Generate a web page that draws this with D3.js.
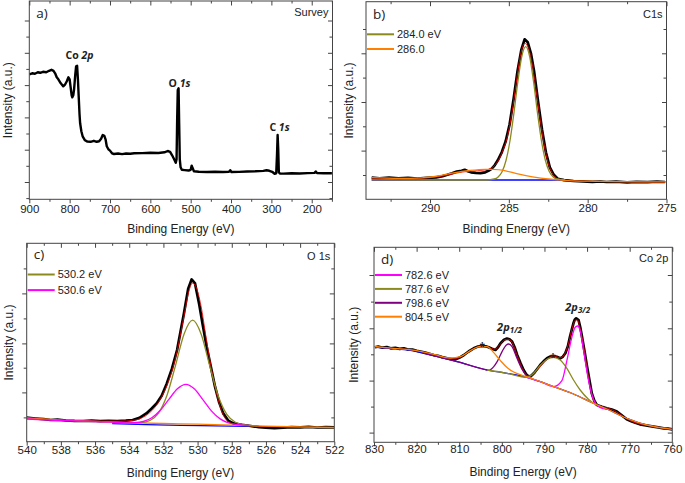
<!DOCTYPE html>
<html>
<head>
<meta charset="utf-8">
<script src="https://cdn.jsdelivr.net/npm/d3@7"></script>
<style>
  body { margin: 0; background: #fff; }
  text { font-family: "Liberation Sans", Arial, sans-serif; fill: #222; }
  .note { font-family: "Open Sans", "Liberation Sans", sans-serif; }
</style>
</head>
<body>
<svg id="chart" width="685" height="483"></svg>
<script>
// ---- panel a) survey ----
const surveyData = [[900,125],[893,126],[886,125.5],[879,127],[873,126.5],[866,127.5],[858,127],[851,128.5],[845,129.5],[840,128.5],[836,126],[832,122],[828,120],[822,116],[816,113],[811,115],[807,118],[803,122],[800,120],[797.5,112],[795,104],[793.4,102],[791,104],[789,110],[786,125],[784,133],[781.5,133.5],[779.5,120],[777.7,104],[775.5,85],[774,76],[771,68],[767.8,63],[762,59],[756,57.7],[748,57.5],[740,58.5],[733,57.5],[727,58],[722,60.5],[718,64.3],[714,63.5],[711,60],[708,53],[704,50],[700,48.7],[695,46],[690,45.3],[680,45.8],[670,45.2],[660,45.8],[650,45.5],[640,46],[620,46.2],[600,46.5],[580,46.3],[565,47],[557,48.3],[551,47.5],[546,44],[541,40],[537,36.5],[535,40],[533.5,80],[532,109.3],[530,111],[528.5,75],[527,40],[525,32],[522,29.5],[515,29.2],[505,28.8],[500,29.5],[497.5,33.7],[495,31],[492,28],[480,27.5],[460,27.3],[440,27.6],[420,27.3],[405,27.5],[402,29],[399,27.3],[380,27.4],[360,27.8],[340,28],[320,28.4],[312,29],[305,28.5],[298,27.5],[292,25.5],[288,26],[286,45],[284.5,64.3],[283,50],[281.5,27],[279,25.8],[270,25.7],[250,26],[230,25.8],[210,26.2],[193,26.4],[190,27.8],[187,26.3],[170,26],[150,26]];
const surveyLabels = [['Co ', '2p', 775.6, 140.3], ['O ', '1s', 527.7, 112.3], ['C ', '1s', 279.8, 68.3]];
const surveyTicks = [900, 800, 700, 600, 500, 400, 300, 200];

// ---- panel b) C1s ----
const c1sData = [[293.7,21.7],[293.2,21],[292.6,21.8],[292,21],[291.4,21.4],[290.8,20.8],[290.2,21.5],[289.6,22],[289.2,23.2],[288.9,24.5],[288.6,26],[288.3,27.7],[288,28.5],[287.8,29.5],[287.6,28],[287.4,27],[287.1,26.5],[286.8,26.2],[286.5,27],[286.3,28.5],[286.1,30.5],[285.9,34],[285.7,39],[285.45,47],[285.2,58],[284.95,75],[284.7,100],[284.45,128],[284.2,150],[284.0,160],[283.8,157],[283.6,146],[283.4,128],[283.15,98],[282.9,70],[282.65,47],[282.4,32],[282.15,24.5],[281.9,20.5],[281.5,19.2],[280.9,18.3],[280.3,18],[279.7,17.5],[279.2,17.8],[278.8,17.3],[278.2,17.6],[277.5,17],[276.9,17.5],[276.2,17.2],[275.6,17.6],[275.1,17.3]];
const c1sEnvelope = [[293.7,21.2],[291,21.1],[290,21.6],[289,23.8],[288,27.2],[287,28.6],[286.4,29.6],[286,32.5],[285.7,38],[285.4,48],[285.1,62],[284.8,87],[284.5,120],[284.25,145],[284.0,156],[283.8,153],[283.55,138],[283.3,112],[283.05,84],[282.8,58],[282.5,36],[282.2,25],[281.9,20.5],[281.5,19],[280.5,18.2],[279,17.8],[277,17.4],[275,17.3]];
const c1sBackground = [[293.7,19.3],[281.6,19.3]];
const c1sPeak284 = [[293.7,19.4],[290,19.3],[287,19.3],[286.43,19.3],[285.93,20.3],[285.68,22.4],[285.43,27.6],[285.18,38.8],[284.93,58.3],[284.68,86],[284.43,117.3],[284.18,142.8],[283.93,152.7],[283.68,142.8],[283.43,117.3],[283.18,86],[282.93,58.3],[282.68,38.8],[282.43,27.6],[282.18,22.4],[281.93,20.3],[281.43,19.3]];
const c1sPeak286 = [[293.7,21.7],[292,21],[290.5,21.5],[289.5,23.3],[288.5,26.5],[287.5,28.8],[286.5,30],[286,30],[285.2,28.5],[284.5,25.7],[283.5,22.5],[282.5,20.3],[281.8,19.5],[281,18.5],[279.5,18],[278,17.7],[276.5,17.5],[275,17.4]];
const c1sTicks = [290, 285, 280, 275];

// ---- panel c) O 1s ----
const o1sData = [[540,24],[539.5,23.2],[539,22.5],[538.6,21.7],[538.2,22],[537.7,21.2],[537.2,20.8],[536.7,20.7],[536.2,21],[535.7,20.5],[535.2,20.9],[534.7,20.7],[534.2,21],[533.8,21.7],[533.4,23.8],[533,28.3],[532.7,33],[532.4,38.3],[532.1,46],[531.8,58.3],[531.5,73],[531.2,91.7],[531,110],[530.8,128.3],[530.55,153],[530.35,162.3],[530.15,158.3],[529.9,137],[529.7,117],[529.47,95],[529.2,73],[528.98,55],[528.75,40],[528.5,28.3],[528.2,21],[527.9,18.3],[527.4,16.8],[526.9,15.7],[526.4,14.5],[526,14],[525.5,13.5],[525,14],[524.5,14.5],[524,14.3],[523.5,14.8],[523,14.2],[522.5,14.6],[522,14.3]];
const o1sEnvelope = [[540,23.8],[538,21.6],[536,20.6],[534.5,20.6],[533.8,21.3],[533.3,23.5],[532.8,29],[532.3,39],[531.8,56],[531.3,83],[530.8,125],[530.5,151],[530.3,158.5],[530.1,155],[529.8,136],[529.5,104],[529.2,74],[528.9,49],[528.6,31],[528.3,21.5],[527.9,17.8],[527,16],[525,14.6],[522,14.2]];
const o1sBackground = [[540,23.7],[538,21.5],[536,20.3],[534,19],[532,18.2],[530,17.5],[528,16.6],[526,15.5],[524,14.8],[522,14.2]];
const o1sBlue = [[535,18.2],[533,17.1],[531,16.3],[529,15.9],[527,15.4]];
const o1sPeak530_2 = [[535,18.8],[534,18.7],[533.29,19.1],[532.79,21.2],[532.29,28.5],[531.79,46.5],[531.29,76.4],[530.79,107.8],[530.29,121.5],[529.79,107.5],[529.29,75.9],[528.79,45.7],[528.29,27.3],[527.79,19.5],[527.29,17.1],[526.5,15.9]];
const o1sPeak530_6 = [[540,22.7],[538,21.2],[536,20.2],[535,19.5],[534.18,18.8],[533.68,19],[533.18,20.2],[532.68,23.9],[532.18,31.5],[531.68,42.3],[531.18,52.9],[530.68,57.3],[530.18,52.6],[529.68,41.8],[529.18,30.6],[528.68,22.8],[528.18,18.7],[527.68,17.1],[527,16.3]];
const o1sTicks = [540, 538, 536, 534, 532, 530, 528, 526, 524, 522];

// ---- panel d) Co 2p ----
const co2pData = [[829.8,95],[829,95.8],[828,94.6],[827,95.3],[826.1,94],[825,94.5],[824,93.4],[823,94],[822.2,93],[821,92.8],[820,91.5],[819.1,90.7],[818,89.8],[817,88.6],[816,87.3],[815,86.5],[814,85.2],[812.8,84],[811.8,83.3],[810.9,83],[810,84.5],[808.9,87.3],[807.8,90.8],[806.6,94],[805.6,95.8],[804.6,96.3],[803.8,96],[803.1,95],[802.3,93.5],[801.5,92.3],[800.9,95],[800.3,99],[799.5,102.5],[798.8,103.7],[798.2,103],[797.6,100.7],[797,95],[796.4,87.3],[795.6,79],[794.9,72.3],[794.3,68],[793.7,65.7],[793.1,66.5],[792.5,69],[791.8,72.8],[791,77.3],[790.2,81],[789.4,84],[788.6,85.8],[787.9,86.3],[787.1,85.5],[786.3,84],[785.7,85.5],[785.1,89],[784.5,96],[784,105.7],[783.6,112.5],[783.2,119],[782.9,122.5],[782.55,124],[782.0,122.3],[781.6,115],[781.2,105.7],[780.6,91],[780,75.7],[779.4,61],[778.9,49],[778.3,41.5],[777.7,37.3],[776.5,35.5],[775.4,34],[774.2,32.8],[773,30.7],[772,27.5],[770.7,23],[769.5,20.8],[768.5,19.3],[767.6,18],[766.5,17.2],[765.5,16.5],[764.4,15.7],[763.3,15],[762,14],[761,13.6],[760,13]];
const co2pEnvelope = [[829.8,95],[826,94],[822,92.8],[818,89.4],[814,85.3],[811.5,83.4],[810,84.5],[808.5,88.5],[806.5,94],[804.6,96.2],[803,95],[801.7,93],[800.5,97.5],[799.3,102.5],[798.5,103],[797.6,100],[796.5,88],[795.2,74],[794.0,66.5],[793,66.5],[791.5,73],[790,80.5],[788.5,85.5],[787.5,86],[786.3,84.5],[785.3,88],[784.4,98],[783.5,114],[782.8,122],[782.3,122.5],[781.7,115],[781,101],[780.2,80],[779.4,58],[778.6,43],[777.6,37],[776,35],[774,32.5],[772,27.5],[770,21.8],[768,18.6],[765,16.3],[762,14.2],[760,13.2]];
const co2pBackground = [[829.77,95],[822.2,92.3],[818.3,89],[814.4,85],[810.5,80.7],[803.47,72.3],[798.78,69],[794.1,65],[790.98,60.7],[787.86,55.7],[783.18,48.3],[778.5,39],[775.37,33.3],[770.69,24],[766,17.3],[760,13]];
const co2pPeak782_6 = [[794.1,65],[790.98,60.7],[787.86,55.7],[785.91,61.7],[784.74,81.7],[783.57,105],[782.79,115],[782.24,116.3],[781.62,111.7],[780.84,92.3],[779.67,62.3],[778.5,43],[777.32,35.7],[776.15,33.7],[775.37,33.3]];
const co2pPeak787_6 = [[803.47,72.3],[798.78,69],[794.1,65],[792.54,69],[790.98,77],[789.42,83],[787.86,85],[786.3,82.3],[784.74,74],[783.18,62.3],[781.62,52.3],[779.67,43],[778.5,39]];
const co2pPeak798_6 = [[818.3,89],[814.4,85],[810.5,80.7],[803.47,72.3],[803.08,72],[801.9,75.7],[801.1,80.7],[799.95,90.7],[798.94,97.3],[798.4,98.3],[797.6,95.7],[796.44,84],[795.27,73],[794.1,66.3],[792.93,64]];
const co2pPeak804_5 = [[829.77,95.7],[826,94.2],[822.2,93],[818.5,90.5],[815.95,88],[812.05,84.3],[809.71,85.7],[807.37,91.7],[805.03,96],[803.47,95.7],[801.9,89.7],[800.34,81.7],[798.78,74.7],[797.22,70.3],[795.27,67],[793.71,65],[790.98,60.7],[787.86,55.7],[783.18,48.3],[778.5,39],[775.37,33.3],[770.69,24],[766,17.3],[760,13]];
const co2pLabels = [['2p', '1/2', 798.2, 111], ['2p', '3/2', 782.2, 131]];
const co2pStars = [[804.6, 99.3], [788.0, 88.7]];
const co2pTicks = [830, 820, 810, 800, 790, 780, 770, 760];

const olive = '#8a8a1e', magenta = '#ff00ff', purple = '#800080', orange = '#ff8000', blue = '#0000ff', red = '#ff0000';

const svg = d3.select('#chart');

function drawPanel(p) {
  const x = d3.scaleLinear().domain(p.xDomain).range([p.left, p.right]);
  const y = d3.scaleLinear().domain(p.yDomain).range([p.bottom, p.top]);
  const g = svg.append('g');

  const clipId = 'clip-' + p.name;
  g.append('clipPath').attr('id', clipId).append('rect')
    .attr('x', p.left).attr('y', p.top)
    .attr('width', p.right - p.left).attr('height', p.bottom - p.top);

  const plot = g.append('g').attr('clip-path', `url(#${clipId})`);
  const line = d3.line().x(d => x(d[0])).y(d => y(d[1]));

  p.series.forEach(s => {
    plot.append('path')
      .datum(s.data)
      .attr('fill', 'none')
      .attr('stroke', s.color)
      .attr('stroke-width', s.width)
      .attr('stroke-linejoin', 'round')
      .attr('d', line.curve(s.curve || d3.curveMonotoneX));
  });

  // axes: majors + minors on all four sides
  const axisStyle = sel => {
    sel.select('.domain').remove();
    sel.selectAll('line').attr('stroke', '#444');
    sel.selectAll('text').remove();
  };
  const fmt = d3.format('d');
  g.append('g').attr('transform', `translate(0,${p.bottom})`)
    .call(d3.axisBottom(x).tickValues(p.xMinor).tickSize(2.5)).call(axisStyle);
  g.append('g').attr('transform', `translate(0,${p.top})`)
    .call(d3.axisTop(x).tickValues(p.xMinor).tickSize(-2.5)).call(axisStyle);
  g.append('g').attr('transform', `translate(0,${p.top})`)
    .call(d3.axisTop(x).tickValues(p.xMajor).tickSize(-4.5)).call(axisStyle);
  const bottomMajor = g.append('g').attr('transform', `translate(0,${p.bottom})`)
    .call(d3.axisBottom(x).tickValues(p.xMajor).tickSize(4).tickFormat(fmt));
  bottomMajor.select('.domain').remove();
  bottomMajor.selectAll('line').attr('stroke', '#444');
  bottomMajor.selectAll('text')
    .attr('y', p.labelGap).attr('dy', null)
    .style('font-size', '11.5px').style('font-family', '"Liberation Sans", Arial, sans-serif').attr('fill', '#222');

  g.append('g').attr('transform', `translate(${p.left},0)`)
    .call(d3.axisLeft(y).tickValues(p.yMajor).tickSize(4.5)).call(axisStyle);
  g.append('g').attr('transform', `translate(${p.left},0)`)
    .call(d3.axisLeft(y).tickValues(p.yMinor).tickSize(3)).call(axisStyle);
  g.append('g').attr('transform', `translate(${p.right},0)`)
    .call(d3.axisRight(y).tickValues(p.yMajor).tickSize(-4.5)).call(axisStyle);
  g.append('g').attr('transform', `translate(${p.right},0)`)
    .call(d3.axisRight(y).tickValues(p.yMinor).tickSize(-3)).call(axisStyle);

  g.append('rect')
    .attr('x', p.left).attr('y', p.top)
    .attr('width', p.right - p.left).attr('height', p.bottom - p.top)
    .attr('fill', 'none').attr('stroke', '#444').attr('stroke-width', 1);

  // axis titles
  g.append('text')
    .attr('x', (p.left + p.right) / 2).attr('y', p.titleY)
    .attr('text-anchor', 'middle').style('font-size', '12px')
    .text('Binding Energy (eV)');
  g.append('text')
    .attr('transform', `translate(${p.yTitleX},${(p.top + p.bottom) / 2}) rotate(-90)`)
    .attr('text-anchor', 'middle').attr('dy', '0.35em').style('font-size', '12px')
    .text('Intensity (a.u.)');

  // panel letter and core level
  g.append('text').attr('class', 'note')
    .attr('x', p.left + 7).attr('y', p.top + p.letterDy)
    .style('font-size', '13.5px').text(p.letter);
  g.append('text')
    .attr('x', p.right - 4).attr('y', p.top + p.cornerDy)
    .attr('text-anchor', 'end').style('font-size', '11px').text(p.corner);

  // legend
  (p.legend || []).forEach((item, i) => {
    const ly = p.legendY + i * p.legendStep;
    g.append('line')
      .attr('x1', p.left + 1).attr('x2', p.left + 28).attr('y1', ly).attr('y2', ly)
      .attr('stroke', item[1]).attr('stroke-width', 2);
    g.append('text')
      .attr('x', p.left + 31).attr('y', ly).attr('dy', '0.35em')
      .style('font-size', '11px').text(item[0]);
  });

  return { g, x, y };
}

// panel a
const pa = drawPanel({
  name: 'a', left: 29.3, right: 332.5, top: 1, bottom: 199.3,
  xDomain: [900, 148.5], yDomain: [0, 198.3],
  xMajor: surveyTicks, xMinor: d3.range(850, 149, -100),
  yMajor: [17.3, 49.6, 81.9, 114.2, 146.5, 178.8], yMinor: [1.2, 33.5, 65.8, 98.1, 130.4, 162.7],
  labelGap: 14, titleY: 233, yTitleX: 8,
  letter: 'a)', letterDy: 17, corner: 'Survey', cornerDy: 15,
  series: [{ data: surveyData, color: '#000', width: 2.4, curve: d3.curveLinear }]
});
surveyLabels.forEach(l => {
  const t = pa.g.append('text').attr('class', 'note')
    .attr('x', pa.x(l[2])).attr('y', pa.y(l[3]))
    .attr('text-anchor', 'middle').style('font-size', '10.5px').style('font-weight', 'bold');
  t.append('tspan').text(l[0]);
  t.append('tspan').style('font-style', 'italic').text(l[1]);
});

// panel b
drawPanel({
  name: 'b', left: 366, right: 666.5, top: 1.7, bottom: 199.3,
  xDomain: [294.06, 275], yDomain: [0, 197.6],
  xMajor: c1sTicks, xMinor: [292.5, 287.5, 282.5, 277.5],
  yMajor: [48.7, 97.3, 146], yMinor: [24.3, 73, 121.7, 170.3],
  labelGap: 12.5, titleY: 233, yTitleX: 348.5,
  letter: 'b)', letterDy: 17, corner: 'C1s', cornerDy: 16,
  legend: [['284.0 eV', olive], ['286.0', orange]], legendY: 34.3, legendStep: 14.7,
  series: [
    { data: c1sData, color: '#000', width: 2.7, curve: d3.curveLinear },
    { data: c1sEnvelope, color: red, width: 0.8 },
    { data: c1sBackground, color: blue, width: 1.3, curve: d3.curveLinear },
    { data: c1sPeak284, color: olive, width: 1.3 },
    { data: c1sPeak286, color: orange, width: 1.3 }
  ]
});

// panel c
drawPanel({
  name: 'c', left: 26.7, right: 334.3, top: 243.3, bottom: 441.7,
  xDomain: [540, 522], yDomain: [0, 198.4],
  xMajor: o1sTicks, xMinor: d3.range(539, 522, -2),
  yMajor: [49.3, 98.3, 148.3], yMinor: [24.3, 74, 123.3, 173.3],
  labelGap: 12.5, titleY: 477, yTitleX: 8.5,
  letter: 'c)', letterDy: 16, corner: 'O 1s', cornerDy: 16.5,
  legend: [['530.2 eV', olive], ['530.6 eV', magenta]], legendY: 274.5, legendStep: 15.6,
  series: [
    { data: o1sData, color: '#000', width: 2.7, curve: d3.curveLinear },
    { data: o1sEnvelope, color: red, width: 0.8 },
    { data: o1sBlue, color: blue, width: 1.3 },
    { data: o1sBackground, color: orange, width: 1.3 },
    { data: o1sPeak530_2, color: olive, width: 1.3 },
    { data: o1sPeak530_6, color: magenta, width: 1.3 }
  ]
});

// panel d
const pd = drawPanel({
  name: 'd', left: 374, right: 672.3, top: 247.3, bottom: 442.3,
  xDomain: [830, 760], yDomain: [0, 195],
  xMajor: co2pTicks, xMinor: d3.range(825, 760, -10),
  yMajor: [9.7, 61.7, 114, 167.3], yMinor: [35.7, 88, 140.7],
  labelGap: 10.5, titleY: 476, yTitleX: 354,
  letter: 'd)', letterDy: 17, corner: 'Co 2p', cornerDy: 14.5,
  legend: [['782.6 eV', magenta], ['787.6 eV', olive], ['798.6 eV', purple], ['804.5 eV', orange]],
  legendY: 275, legendStep: 13.9,
  series: [
    { data: co2pData, color: '#000', width: 2.7, curve: d3.curveLinear },
    { data: co2pEnvelope, color: red, width: 0.8 },
    { data: co2pBackground, color: blue, width: 1.2 },
    { data: co2pPeak798_6, color: purple, width: 1.3 },
    { data: co2pPeak787_6, color: olive, width: 1.3 },
    { data: co2pPeak782_6, color: magenta, width: 1.3 },
    { data: co2pPeak804_5, color: orange, width: 1.3 }
  ]
});
co2pLabels.forEach(l => {
  const t = pd.g.append('text').attr('class', 'note')
    .attr('x', pd.x(l[2])).attr('y', pd.y(l[3]))
    .attr('text-anchor', 'middle').style('font-size', '11px')
    .style('font-weight', 'bold').style('font-style', 'italic');
  t.append('tspan').text(l[0]);
  t.append('tspan').attr('dy', 2).style('font-size', '8px').text(l[1]);
});
co2pStars.forEach(s => {
  pd.g.append('text').attr('class', 'note')
    .attr('x', pd.x(s[0])).attr('y', pd.y(s[1]))
    .attr('text-anchor', 'middle').attr('dy', '0.7em')
    .style('font-size', '10px').style('font-weight', 'bold').text('*');
});
</script>
</body>
</html>
